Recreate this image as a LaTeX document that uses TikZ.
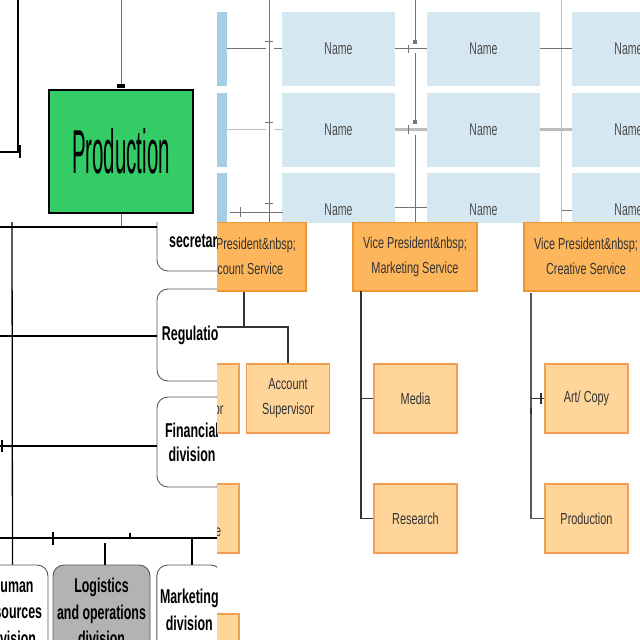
\documentclass[tikz,border=0pt]{standalone}
\usepackage{fontspec}
\setmainfont{Liberation Sans}
\newfontfamily\prodfont[FakeStretch=0.33]{Liberation Sans}
\newfontfamily\namefont[FakeStretch=0.62]{Liberation Sans}
\newfontfamily\divfont[FakeStretch=0.62]{Liberation Sans}
\newfontfamily\vpfont[FakeStretch=0.68]{Liberation Sans}
\usetikzlibrary{positioning}

\definecolor{prodgreen}{HTML}{33CC66}
\definecolor{namefill}{HTML}{D5E8F1}
\definecolor{namestrip}{HTML}{A6CDE6}
\definecolor{tdark}{HTML}{737373}
\definecolor{tlight}{HTML}{BDBDBD}
\definecolor{logigray}{HTML}{B3B3B3}
\definecolor{vpfill}{HTML}{FDB65C}
\definecolor{vpline}{HTML}{EE9733}
\definecolor{subfill}{HTML}{FFD59A}
\definecolor{subline}{HTML}{EFA055}

\tikzset{
  prodbox/.style={draw=black, line width=2pt, fill=prodgreen, inner sep=0pt,
    minimum width=144pt, minimum height=123pt,
    font=\prodfont\fontsize{62}{62}\selectfont},
  namebox/.style={fill=namefill, inner sep=0pt, minimum width=113pt,
    minimum height=74pt, text=black!70,
    font=\namefont\fontsize{17}{17}\selectfont},
  stripbox/.style={fill=namestrip, inner sep=0pt, minimum width=10pt,
    minimum height=74pt},
  divbox/.style={draw=black!65, line width=0.9pt, fill=white,
    rounded corners=11pt, inner sep=0pt, align=center,
    font=\divfont\bfseries\fontsize{20}{26.5}\selectfont},
  vpbox/.style={draw=vpline, line width=1.2pt, fill=vpfill, inner sep=0pt,
    minimum width=124pt, minimum height=69pt, align=center, text=black!80,
    font=\vpfont\fontsize{16}{25}\selectfont},
  subbox/.style={vpbox, draw=subline, fill=subfill, minimum width=83pt},
  orgline/.style={black, line width=1.3pt},
  agline/.style={black!80, line width=1.1pt},
  tline/.style={tdark, line width=1pt}
}

\begin{document}
\begin{tikzpicture}[x=1pt,y=-1pt]
  \useasboundingbox[fill=white] (0,0) rectangle (640,640);

  % top left: production
  \begin{scope}
    \clip (0,0) rectangle (217,222);
    \node[prodbox] (prod) at (121,151.5) {Production};
    \coordinate (tltop) at (18,0);
    \coordinate (tlbend) at (18,152);
    \coordinate (tlw) at (0,152);
    \draw[orgline] (tltop) -- (tlbend) -- (tlw);
    \draw[orgline] (20,145) -- (20,158);
    \coordinate (prodin) at (121,0);
    \draw[tdark, line width=1pt] (prodin) -- ([yshift=3pt]prod.north);
    \fill[black] (117,84) rectangle (125,88);
  \end{scope}
  \coordinate (prodlow) at (121,227);
  \draw[tdark, line width=1pt] (prod.south) -- (prodlow);

  % top right: name grid
  \begin{scope}
    \clip (217,0) rectangle (640,222);
    \node[stripbox] (strip1) at (222,48.5) {};
    \node[stripbox] (strip2) at (222,129.5) {};
    \node[stripbox] (strip3) at (222,209.5) {};
    \node[namebox] (n11) at (338.5,48.5) {Name};
    \node[namebox] (n12) at (338.5,129.5) {Name};
    \node[namebox] (n13) at (338.5,209.5) {Name};
    \node[namebox] (n21) at (483.5,48.5) {Name};
    \node[namebox] (n22) at (483.5,129.5) {Name};
    \node[namebox] (n23) at (483.5,209.5) {Name};
    \node[namebox] (n31) at (628.5,48.5) {Name};
    \node[namebox] (n32) at (628.5,129.5) {Name};
    \node[namebox] (n33) at (628.5,209.5) {Name};
    % first column
    \draw[tdark, line width=0.8pt] (269,0) -- (269,222);
    \draw[tline] (265,41) -- (273,41);
    \draw[tline] (265,122) -- (273,122);
    \draw[tline] (265,203) -- (273,203);
    \draw[tline] (strip1.east) -- ([xshift=-16pt]n11.west);
    \draw[tline] ([xshift=-8pt]n11.west) -- (n11.west);
    \draw[tlight, line width=1pt] (strip2.east) -- ([xshift=-16pt]n12.west);
    \draw[tlight, line width=1.5pt] ([xshift=-8pt]n12.west) -- (n12.west);
    \draw[tline] (230,212) -- (283,212);
    \draw[tline] (240,207) -- (240,217);
    % second column
    \draw[tdark, line width=0.8pt] (415,0) -- (415,42);
    \draw[tdark, line width=0.8pt] (415,53) -- (415,121);
    \draw[tdark, line width=0.8pt] (415,135) -- (415,222);
    \fill[tdark] (413,40) rectangle (417,44);
    \fill[tdark] (413,120) rectangle (417,124);
    \draw[tline] (n11.east) -- (n21.west);
    \draw[tline] (408,45) -- (408,53);
    \draw[tlight, line width=3pt] (n12.east) -- (n22.west);
    \draw[tline] (408,125) -- (408,134);
    \draw[tline] (395,207) -- (427,207);
    % third column
    \draw[tlight, line width=0.8pt] (561,0) -- (561,222);
    \draw[tline] (n21.east) -- (n31.west);
    \draw[tlight, line width=3pt] (n22.east) -- (n32.west);
    \draw[tline] (562,210) -- (n33.west |- 0,210);
  \end{scope}

  % bottom left: divisions
  \begin{scope}
    \clip (0,222) rectangle (217,640);
    \node[divbox, minimum width=87pt, minimum height=62pt] (sec) at (200.5,240) {secretariat};
    \node[divbox, minimum width=74pt, minimum height=92pt] (reg) at (194,335) {Regulation};
    \node[divbox, minimum width=70pt, minimum height=90pt] (fin) at (192,442) {Financial\\[-2.5pt]division};
    \node[divbox, minimum width=71pt, minimum height=94pt] (hr) at (12.5,612) {Human\\resources\\division};
    \node[divbox, fill=logigray, minimum width=97pt, minimum height=94pt] (log) at (101.5,612) {Logistics\\and operations\\division};
    \node[divbox, minimum width=65pt, minimum height=90pt] (mkt) at (189.3,610) {Marketing\\division};
    \coordinate (hrtop) at (12,222);
    \draw[orgline] (hrtop) -- (hr.north);
    \coordinate (secw) at (0,227);
    \coordinate (regw) at (0,336);
    \coordinate (finw) at (0,446);
    \draw[orgline] (secw) -- (secw -| sec.west);
    \draw[orgline] (regw) -- (regw -| reg.west);
    \draw[orgline] (finw) -- (finw -| fin.west);
    \draw[orgline] (2,440) -- (2,452);
    \coordinate (busw) at (0,538);
    \coordinate (buse) at (217,538);
    \draw[orgline] (busw) -- (buse);
    \draw[orgline] (53,532) -- (53,545);
    \draw[orgline] (130,533) -- (130,538);
    \coordinate (logtap) at (105,543);
    \draw[orgline] (logtap) -- (logtap |- log.north);
    \coordinate (mkttap) at (192,538);
    \draw[orgline] (mkttap) -- (mkttap |- mkt.north);
  \end{scope}

  % bottom right: agency services
  \begin{scope}
    \clip (217,222) rectangle (640,640);
    \node[vpbox] (vp1) at (244,256.5) {Vice President\&nbsp;\\Account Service};
    \node[vpbox] (vp2) at (415,256.5) {Vice President\&nbsp;\\Marketing Service};
    \node[vpbox] (vp3) at (586,256.5) {Vice President\&nbsp;\\Creative Service};
    \node[subbox] (acdir) at (197.5,398.5) {Account\\Supervisor};
    \node[subbox] (acsup) at (288,398.5) {Account\\Supervisor};
    \node[subbox] (acexe) at (197.5,518.5) {Account\\Executive};
    \node[subbox] (acass) at (197.5,648.5) {Account\\Assistant};
    \node[subbox] (media) at (415.5,398.5) {Media};
    \node[subbox] (research) at (415.5,518.5) {Research};
    \node[subbox] (artcopy) at (586.5,398.5) {Art/ Copy};
    \node[subbox] (prodcr) at (586.5,518.5) {Production};
    % account service
    \coordinate (acbus) at (244,327);
    \coordinate (acbusw) at (200,327);
    \draw[agline] (vp1.south) -- (acbus);
    \draw[agline] (acbusw) -| (acsup.north);
    % marketing service
    \coordinate (mstop) at (361,291);
    \coordinate (msbot) at (361,518.5);
    \draw[agline] (mstop) -- (msbot) -- (research.west);
    \draw[agline] (mstop |- media.west) -- (media.west);
    % creative service
    \coordinate (cstop) at (531,293);
    \coordinate (csbot) at (531,518.5);
    \draw[agline, black!65] (cstop) -- (csbot) -- (prodcr.west);
    \draw[agline] (cstop |- artcopy.west) -- (artcopy.west);
    \draw[agline] (541,393) -- (541,404);
    \draw[agline] (531,408) -- (531,414);
  \end{scope}
\end{tikzpicture}
\end{document}
